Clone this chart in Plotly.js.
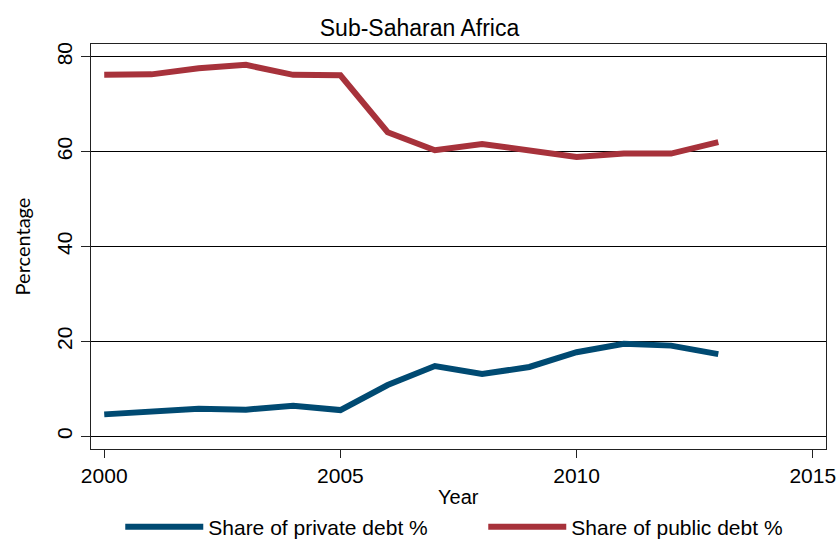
<!DOCTYPE html>
<html>
<head>
<meta charset="utf-8">
<script src="https://cdn.plot.ly/plotly-3.0.1.min.js"></script>
<style>html,body{margin:0;padding:0;background:#fff;}#chart{width:839px;height:539px;}</style>
</head>
<body>
<div id="chart"></div>
<script>
const years = [2000,2001,2002,2003,2004,2005,2006,2007,2008,2009,2010,2011,2012,2013];
const privateDebt = [4.6,5.2,5.8,5.6,6.4,5.5,10.8,14.8,13.1,14.6,17.7,19.5,19.1,17.3];
const publicDebt = [76.2,76.3,77.6,78.3,76.2,76.1,64.1,60.3,61.6,60.1,58.9,59.6,59.6,62.0];
const xTicks = [2000,2005,2010,2015];
const yTicks = [0,20,40,60,80];

const font = {family: 'Liberation Sans, Arial, Helvetica, sans-serif', color: '#000'};

const traces = [
  {x: years, y: privateDebt, type: 'scatter', mode: 'lines', name: 'Share of private debt %',
   line: {color: '#004A72', width: 6}},
  {x: years, y: publicDebt, type: 'scatter', mode: 'lines', name: 'Share of public debt %',
   line: {color: '#A7323B', width: 6}}
];

const layout = {
  width: 839, height: 539,
  paper_bgcolor: '#fff', plot_bgcolor: '#fff',
  margin: {l: 91, r: 13, t: 44, b: 90},
  font: Object.assign({size: 20}, font),
  title: {text: 'Sub-Saharan Africa', font: Object.assign({size: 23}, font), x: 0.5, xanchor: 'center', y: 0.948, yanchor: 'middle'},
  xaxis: {
    range: [1999.72, 2015.28], tickvals: xTicks, ticktext: xTicks.map(String),
    ticks: 'outside', ticklen: 8, tickcolor: '#222', showgrid: false, zeroline: false,
    showline: true, mirror: true, linecolor: '#222', linewidth: 1.2, automargin: false,
    tickfont: Object.assign({size: 21}, font)
  },
  yaxis: {
    range: [-2.7, 82.7], tickvals: yTicks, ticktext: yTicks.map(String), tickangle: -90,
    ticks: 'outside', ticklen: 9, tickcolor: '#222', showgrid: true, gridcolor: '#000', gridwidth: 1,
    zeroline: false, showline: true, mirror: true, linecolor: '#222', linewidth: 1.2, automargin: true,
    tickfont: Object.assign({size: 21}, font),
    title: {text: 'Percentage', font: {family: 'Lato, Open Sans, sans-serif', size: 20, color: '#000'}, standoff: 17}
  },
  annotations: [
    {text: 'Year', xref: 'paper', yref: 'paper', x: 0.5, y: -0.1185, xanchor: 'center', yanchor: 'middle',
     showarrow: false, font: Object.assign({size: 20}, font)}
  ],
  showlegend: true,
  legend: {orientation: 'h', x: 0.576, xanchor: 'center', xref: 'container', y: 0.022, yanchor: 'middle', yref: 'container',
           font: Object.assign({size: 21}, font), itemwidth: 78, entrywidth: 270, traceorder: 'normal'}
};

Plotly.newPlot('chart', traces, layout, {displayModeBar: false, staticPlot: true});
</script>
</body>
</html>
